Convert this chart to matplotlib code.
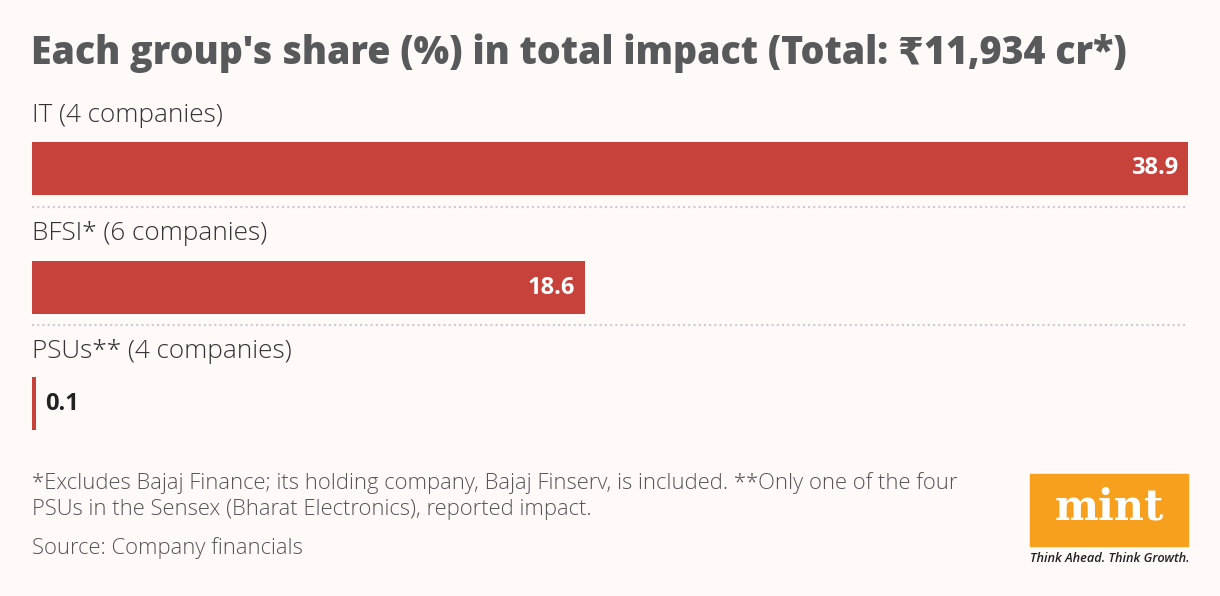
import matplotlib
matplotlib.use("Agg")
import matplotlib.pyplot as plt
from matplotlib.patches import Rectangle

categories = ["IT (4 companies)", "BFSI* (6 companies)", "PSUs** (4 companies)"]
values = [38.9, 18.6, 0.1]
value_labels = ["38.9", "18.6", "0.1"]

title = "Each group's share (%) in total impact (Total: ₹11,934 cr*)"
footnote = ("*Excludes Bajaj Finance; its holding company, Bajaj Finserv, is included. **Only one of the four\n"
            "PSUs in the Sensex (Bharat Electronics), reported impact.")
source = "Source: Company financials"

BG = "#FFF9F8"
BAR = "#C8423C"
W, H = 1220, 596
fig = plt.figure(figsize=(W / 100, H / 100), dpi=100, facecolor=BG)
ax = fig.add_axes([0, 0, 1, 1])
ax.set_facecolor(BG)
left_px, right_px = 32, 1188
s = (right_px - left_px) / values[0]
ax.set_xlim(-left_px / s, (W - left_px) / s)
ax.set_ylim(H, 0)
ax.axis("off")

fam = ["Open Sans", "DejaVu Sans"]
fig.text(31 / W, 1 - 53 / H, title, fontsize=27, fontweight="heavy", color="#58595B",
         family=["Open Sans", "DejaVu Sans"], va="center", ha="left")

label_y = [115, 234, 352]
bar_top = [142, 261, 377]
bar_h = 53
sep_y = [207, 325]
for i, (cat, v, vl) in enumerate(zip(categories, values, value_labels)):
    ax.text(0, label_y[i], cat, fontsize=18.8, fontweight="light", color="#333333", family=fam,
            va="center", ha="left")
    w = max(v, 4 / s)
    ax.barh(bar_top[i] + bar_h / 2, w, height=bar_h, left=0, color=BAR)
    if v > 5:
        ax.text(v - 10 / s, bar_top[i] + bar_h / 2, vl, fontsize=17, fontweight="bold",
                color="white", family=fam, va="center", ha="right")
    else:
        ax.text(w + 9 / s, bar_top[i] + bar_h / 2, vl, fontsize=17, fontweight="bold",
                color="#222222", family=fam, va="center", ha="left")
for y in sep_y:
    ax.plot([0, values[0]], [y, y], color="#CCCCCC", lw=1.5, linestyle=(0, (1, 1.5)))

fig.text(32 / W, 1 - 496 / H, footnote, fontsize=15.8, fontweight="light", color="#555555",
         family=fam, va="center", ha="left", linespacing=1.3)
fig.text(32 / W, 1 - 548 / H, source, fontsize=15.8, fontweight="light", color="#555555",
         family=fam, va="center", ha="left")

# mint logo
fig.patches.append(Rectangle((1030 / W, 1 - 546 / H), 158 / W, 72 / H, transform=fig.transFigure,
                             color="#F7A01E", zorder=5))
fig.text(1109 / W, 1 - 508 / H, "mint", fontsize=30, fontweight="bold", color="white",
         family=["DejaVu Serif"], ha="center", va="center", zorder=6)
fig.text(1110 / W, 1 - 559 / H, "Think Ahead. Think Growth.", fontsize=9.2, fontstyle="italic",
         color="#222222", family=fam, ha="center", va="center", fontweight="semibold")

fig.savefig("out.png", dpi=100, facecolor=BG)
